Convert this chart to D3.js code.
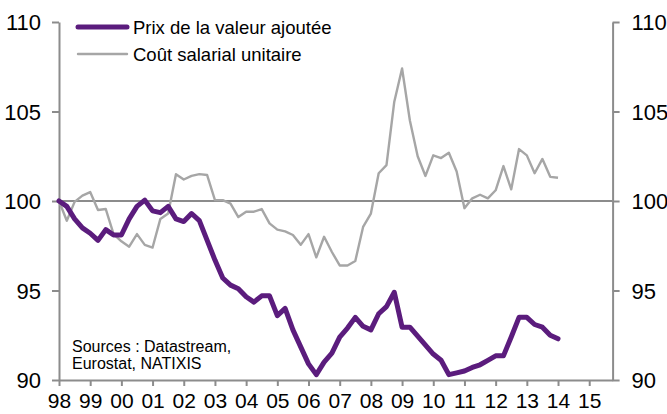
<!doctype html>
<html lang="fr">
<head>
    <meta charset="utf-8">
    <title>Prix de la valeur ajoutée / Coût salarial unitaire</title>
    <script src="https://cdnjs.cloudflare.com/ajax/libs/d3/7.8.5/d3.min.js" type="text/JavaScript"></script>
    <style>
        body { margin: 0; background: #fff; }
        svg { display: block; font-family: "Liberation Sans", Arial, sans-serif; }
    </style>
</head>
<body>
<div id="chart"></div>
<script>

    // quarterly series, 1998Q1 .. 2014Q1 (base 100 = 1998Q1)
    const startYear = 1998;

    const prixValeurAjoutee = [
        100.0, 99.7, 99.0, 98.5, 98.2, 97.8, 98.4, 98.1, 98.1, 99.0,
        99.7, 100.05, 99.45, 99.35, 99.7, 99.0, 98.85, 99.3, 98.9, 97.8,
        96.7, 95.7, 95.3, 95.1, 94.65, 94.35, 94.7, 94.7, 93.6, 94.0,
        92.8, 91.85, 90.9, 90.3, 91.0, 91.5, 92.4, 92.9, 93.5, 93.0,
        92.8, 93.7, 94.1, 94.9, 92.95, 92.95, 92.45, 91.95, 91.45, 91.1,
        90.3, 90.4, 90.5, 90.7, 90.85, 91.1, 91.35, 91.35, 92.4, 93.5,
        93.5, 93.1, 92.95, 92.5, 92.3
    ];

    const coutSalarialUnitaire = [
        100.0, 98.9, 99.95, 100.3, 100.5, 99.5, 99.55, 98.15, 97.75, 97.45,
        98.15, 97.55, 97.4, 99.0, 99.3, 101.5, 101.2, 101.4, 101.5, 101.45,
        100.05, 100.05, 99.85, 99.1, 99.4, 99.4, 99.55, 98.75, 98.4, 98.3,
        98.1, 97.55, 98.15, 96.85, 98.0, 97.15, 96.4, 96.4, 96.65, 98.55,
        99.3, 101.55, 102.0, 105.55, 107.4, 104.5, 102.5, 101.4, 102.55, 102.4,
        102.7, 101.65, 99.6, 100.15, 100.35, 100.15, 100.6, 101.95, 100.65, 102.9,
        102.55, 101.55, 102.35, 101.35, 101.3
    ];

    const yearTicks = d3.range(1998, 2016);
    const yearLabels = ["98", "99", "00", "01", "02", "03", "04", "05", "06",
        "07", "08", "09", "10", "11", "12", "13", "14", "15"];
    const valueTicks = [90, 95, 100, 105, 110];

    const seriesNames = ["Prix de la valeur ajoutée", "Coût salarial unitaire"];
    const sourceLines = ["Sources : Datastream,", "Eurostat, NATIXIS"];

    const width = 667, height = 414;
    const plotLeft = 59, plotRight = 612.6, plotTop = 22, plotBottom = 380;

    const purple = "#5b1c7d";
    const grey = "#a6a6a6";
    const axisGrey = "#8c8c8c";

    const x = d3.scaleLinear()
        .domain([1998, 2015.75])
        .range([plotLeft, plotRight]);

    const y = d3.scaleLinear()
        .domain([90, 110])
        .range([plotBottom, plotTop]);

    const svg = d3.select("#chart").append("svg")
        .attr("width", width)
        .attr("height", height);

    // reference line at 100
    svg.append("line")
        .attr("x1", plotLeft).attr("x2", plotRight)
        .attr("y1", y(100)).attr("y2", y(100))
        .attr("stroke", axisGrey)
        .attr("stroke-width", 2);

    // axes
    const xAxis = svg.append("g")
        .attr("transform", `translate(0,${plotBottom})`)
        .call(d3.axisBottom(x).tickValues(yearTicks).tickSize(6).tickSizeOuter(0)
            .tickFormat((d, i) => yearLabels[i]));

    const yLeft = svg.append("g")
        .attr("transform", `translate(${plotLeft},0)`)
        .call(d3.axisLeft(y).tickValues(valueTicks).tickSize(7).tickSizeOuter(0));

    const yRight = svg.append("g")
        .attr("transform", `translate(${plotRight},0)`)
        .call(d3.axisRight(y).tickValues(valueTicks).tickSize(7).tickSizeOuter(0));

    [xAxis, yLeft, yRight].forEach(g => {
        g.select(".domain").attr("stroke", axisGrey).attr("stroke-width", 2);
        g.selectAll(".tick line").attr("stroke", axisGrey).attr("stroke-width", 2);
        g.selectAll(".tick text")
            .attr("fill", "#000")
            .style("font-family", "'Liberation Sans', Arial, sans-serif")
            .style("font-size", "22px");
    });

    xAxis.selectAll(".tick text")
        .style("font-size", "21px")
        .attr("y", 13).attr("dy", "0.71em");
    yLeft.selectAll(".tick text").attr("x", -18).attr("dy", "0.36em");
    yRight.selectAll(".tick text").attr("x", 19).attr("dy", "0.36em");

    const line = d3.line()
        .x((d, i) => x(startYear + i / 4))
        .y(d => y(d));

    svg.append("path")
        .datum(coutSalarialUnitaire)
        .attr("fill", "none")
        .attr("stroke", grey)
        .attr("stroke-width", 2.4)
        .attr("stroke-linejoin", "round")
        .attr("d", line);

    svg.append("path")
        .datum(prixValeurAjoutee)
        .attr("fill", "none")
        .attr("stroke", purple)
        .attr("stroke-width", 5)
        .attr("stroke-linejoin", "round")
        .attr("stroke-linecap", "round")
        .attr("d", line);

    // legend
    const legend = svg.append("g");
    const legendStyles = [
        {color: purple, w: 5, y: 27},
        {color: grey, w: 2.4, y: 54}
    ];
    seriesNames.forEach((name, i) => {
        const s = legendStyles[i];
        legend.append("line")
            .attr("x1", 78).attr("x2", 127)
            .attr("y1", s.y).attr("y2", s.y)
            .attr("stroke", s.color)
            .attr("stroke-width", s.w)
            .attr("stroke-linecap", "round");
        legend.append("text")
            .attr("x", 133)
            .attr("y", s.y)
            .attr("dy", "0.36em")
            .style("font-size", "18.5px")
            .attr("fill", "#000")
            .text(name);
    });

    // sources
    svg.append("g").selectAll("text")
        .data(sourceLines)
        .join("text")
        .attr("x", 72)
        .attr("y", (d, i) => 352 + i * 17)
        .style("font-size", "16px")
        .attr("fill", "#000")
        .text(d => d);

</script>
</body>
</html>
